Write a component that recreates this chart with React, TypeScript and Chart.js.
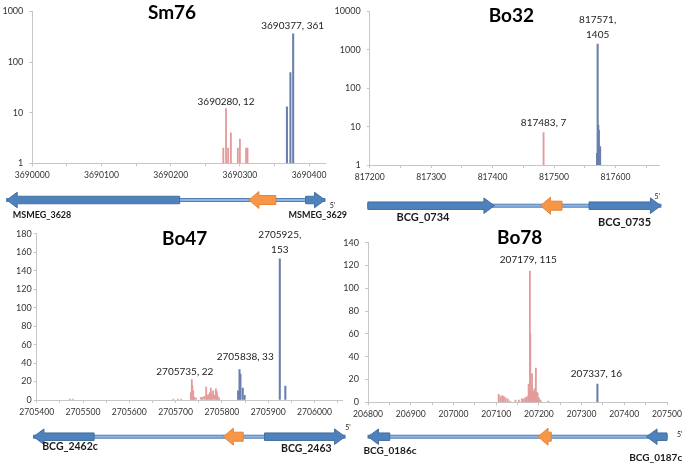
import React, { useEffect, useRef } from 'react';
import { Chart, registerables } from 'chart.js';
Chart.register(...registerables);

// ---------------- Sm76 ----------------
const sm76RedPos = [3690276, 3690280, 3690283, 3690287, 3690297, 3690300, 3690309, 3690311];
const sm76RedCount = [2, 12, 2, 4, 2, 3, 2, 2];
const sm76BluePos = [3690368, 3690373, 3690377];
const sm76BlueCount = [13, 62, 361];
const sm76XLabels = [3690000, 3690100, 3690200, 3690300, 3690400];
const sm76YTicks = [1, 10, 100, 1000];
const sm76LabelPos = [3690377, 3690280];
const sm76LabelCount = [361, 12];
const sm76LabelText = ['3690377, 361', '3690280, 12'];
const sm76GeneNames = ['MSMEG_3628', '', 'MSMEG_3629'];
const sm76GeneTail = [3690213, 3690352, 3690395];
const sm76GeneTip = [3689963, 3690313, 3690423];
const sm76GeneKind = ['blue', 'orange', 'blue'];

// ---------------- Bo32 ----------------
const bo32RedPos = [817483];
const bo32RedCount = [7];
const bo32BluePos = [817570, 817571, 817572, 817573, 817575];
const bo32BlueCount = [2, 1405, 11, 8, 3];
const bo32XLabels = [817200, 817300, 817400, 817500, 817600];
const bo32YTicks = [1, 10, 100, 1000, 10000];
const bo32LabelPos = [817571, 817483];
const bo32LabelCount = [1405, 7];
const bo32LabelText = ['817571,\n1405', '817483, 7'];
const bo32GeneNames = ['BCG_0734', '', 'BCG_0735'];
const bo32GeneTail = [817197, 817513, 817557];
const bo32GeneTip = [817403, 817478, 817674];
const bo32GeneKind = ['blue', 'orange', 'blue'];

// ---------------- Bo47 ----------------
const bo47RedPos = [2705472, 2705478, 2705695, 2705705, 2705712, 2705733, 2705735, 2705736, 2705738, 2705740, 2705744,
  2705755, 2705758, 2705762, 2705766, 2705768, 2705771, 2705774, 2705776, 2705778, 2705781, 2705784, 2705787,
  2705789, 2705791, 2705794];
const bo47RedCount = [1, 1, 1, 1, 1, 8, 22, 16, 10, 3, 2,
  3, 3, 4, 14, 5, 6, 8, 13, 7, 10, 5, 12,
  9, 4, 2];
const bo47BluePos = [2705835, 2705838, 2705840, 2705845, 2705849, 2705925, 2705937];
const bo47BlueCount = [10, 33, 28, 13, 5, 153, 15];
const bo47XLabels = [2705400, 2705500, 2705600, 2705700, 2705800, 2705900, 2706000];
const bo47YTicks = [0, 20, 40, 60, 80, 100, 120, 140, 160, 180];
const bo47LabelPos = [2705925, 2705838, 2705735];
const bo47LabelCount = [153, 33, 22];
const bo47LabelText = ['2705925,\n153', '2705838, 33', '2705735, 22'];
const bo47GeneNames = ['BCG_2462c', '', 'BCG_2463'];
const bo47GeneTail = [2705524, 2705846, 2705892];
const bo47GeneTip = [2705393, 2705803, 2706066];
const bo47GeneKind = ['blue', 'orange', 'blue'];

// ---------------- Bo78 ----------------
const bo78RedPos = [207106, 207110, 207114, 207118, 207122, 207127, 207132, 207145, 207153, 207160, 207164, 207168,
  207172, 207176, 207179, 207180, 207182, 207184, 207186, 207188, 207190, 207193, 207195, 207197, 207200,
  207204, 207222];
const bo78RedCount = [7, 5, 6, 5, 4, 3, 1, 2, 2, 3, 3, 4,
  5, 16, 115, 60, 15, 25, 10, 9, 12, 30, 9, 8, 4,
  2, 1];
const bo78BluePos = [207337];
const bo78BlueCount = [16];
const bo78XLabels = [206800, 206900, 207000, 207100, 207200, 207300, 207400, 207500];
const bo78YTicks = [0, 20, 40, 60, 80, 100, 120, 140];
const bo78LabelPos = [207179, 207337];
const bo78LabelCount = [115, 16];
const bo78LabelText = ['207179, 115', '207337, 16'];
const bo78GeneNames = ['BCG_0186c', '', 'BCG_0187c'];
const bo78GeneTail = [206851, 207229, 207500];
const bo78GeneTip = [206800, 207198, 207452];
const bo78GeneKind = ['blue', 'orange', 'blue'];

// ---------------- styles ----------------
const RED = '#e39c9c';
const BLUE = '#6b7fae';
const AXIS = '#c6c6c6';
const TICK_TEXT = '#333333';
const FONT = 'Lato, "Open Sans", sans-serif';

type Cfg = {
  left: number; top: number; w: number; h: number;
  axisLeft: number; padTop: number; padRight: number; padBottom: number; yPad: number;
  log: boolean; xMin: number; xMax: number; yMin: number; yMax: number;
  xLabels: number[]; yTicks: number[];
  redPos: number[]; redCount: number[]; bluePos: number[]; blueCount: number[];
  title: string; titleX: number; titleY: number;
  labelPos: number[]; labelCount: number[]; labelText: string[]; labelDx: number[]; labelGap: number[];
  geneNames: string[]; geneTail: number[]; geneTip: number[]; geneKind: string[];
  geneY: number; geneLabelX: number[]; geneLabelY: number[]; geneLabelAlign: CanvasTextAlign[]; geneFont: number;
  primeX: number; primeY: number;
};

const panels: Cfg[] = [
  {
    left: 0, top: 0, w: 350, h: 235, axisLeft: 32.3, padTop: 8, padRight: 25, padBottom: 51.7, yPad: 6,
    log: true, xMin: 3690000, xMax: 3690423, yMin: 1, yMax: 1000,
    xLabels: sm76XLabels, yTicks: sm76YTicks,
    redPos: sm76RedPos, redCount: sm76RedCount, bluePos: sm76BluePos, blueCount: sm76BlueCount,
    title: 'Sm76', titleX: 172, titleY: 13,
    labelPos: sm76LabelPos, labelCount: sm76LabelCount, labelText: sm76LabelText, labelDx: [-0.5, 0], labelGap: [8, 7],
    geneNames: sm76GeneNames, geneTail: sm76GeneTail, geneTip: sm76GeneTip, geneKind: sm76GeneKind,
    geneY: 200, geneLabelX: [12.7, 0, 288.5], geneLabelY: [215, 0, 215], geneLabelAlign: ['left', 'left', 'left'], geneFont: 9,
    primeX: 332.5, primeY: 205.5,
  },
  {
    left: 330, top: 0, w: 356, h: 235, axisLeft: 39.7, padTop: 8, padRight: 26.3, padBottom: 50, yPad: 6,
    log: true, xMin: 817200, xMax: 817672, yMin: 1, yMax: 10000,
    xLabels: bo32XLabels, yTicks: bo32YTicks,
    redPos: bo32RedPos, redCount: bo32RedCount, bluePos: bo32BluePos, blueCount: bo32BlueCount,
    title: 'Bo32', titleX: 181.3, titleY: 16,
    labelPos: bo32LabelPos, labelCount: bo32LabelCount, labelText: bo32LabelText, labelDx: [0, 0], labelGap: [9.7, 9.8],
    geneNames: bo32GeneNames, geneTail: bo32GeneTail, geneTip: bo32GeneTip, geneKind: bo32GeneKind,
    geneY: 205.7, geneLabelX: [93, 0, 294.6], geneLabelY: [217.5, 0, 222.5], geneLabelAlign: ['center', 'center', 'center'], geneFont: 11,
    primeX: 327.3, primeY: 197,
  },
  {
    left: 0, top: 225, w: 355, h: 244, axisLeft: 36.7, padTop: 8.8, padRight: 12.7, padBottom: 49, yPad: 2,
    log: false, xMin: 2705400, xMax: 2706060, yMin: 0, yMax: 180,
    xLabels: bo47XLabels, yTicks: bo47YTicks,
    redPos: bo47RedPos, redCount: bo47RedCount, bluePos: bo47BluePos, blueCount: bo47BlueCount,
    title: 'Bo47', titleX: 184.7, titleY: 14,
    labelPos: bo47LabelPos, labelCount: bo47LabelCount, labelText: bo47LabelText, labelDx: [0, 5.7, -7], labelGap: [9.3, 12.5, 7.7],
    geneNames: bo47GeneNames, geneTail: bo47GeneTail, geneTip: bo47GeneTip, geneKind: bo47GeneKind,
    geneY: 211.7, geneLabelX: [70, 0, 306.3], geneLabelY: [222, 0, 223.8], geneLabelAlign: ['center', 'center', 'center'], geneFont: 10.5,
    primeX: 348, primeY: 203,
  },
  {
    left: 335, top: 225, w: 351, h: 244, axisLeft: 33, padTop: 17.7, padRight: 16.3, padBottom: 46.7, yPad: 6,
    log: false, xMin: 206800, xMax: 207500, yMin: 0, yMax: 140,
    xLabels: bo78XLabels, yTicks: bo78YTicks,
    redPos: bo78RedPos, redCount: bo78RedCount, bluePos: bo78BluePos, blueCount: bo78BlueCount,
    title: 'Bo78', titleX: 184.7, titleY: 13,
    labelPos: bo78LabelPos, labelCount: bo78LabelCount, labelText: bo78LabelText, labelDx: [-1.6, -1], labelGap: [11, 10.3],
    geneNames: bo78GeneNames, geneTail: bo78GeneTail, geneTip: bo78GeneTip, geneKind: bo78GeneKind,
    geneY: 211.7, geneLabelX: [55, 0, 320.7], geneLabelY: [225.8, 0, 232.5], geneLabelAlign: ['center', 'center', 'center'], geneFont: 10,
    primeX: 344.7, primeY: 210,
  },
];

function drawArrow(ctx: CanvasRenderingContext2D, xTail: number, xTip: number, yc: number, orange: boolean) {
  const dir = xTip > xTail ? 1 : -1;
  const headL = orange ? 10 : 10.5;
  const bodyH = orange ? 9 : 7.5;
  const headH = orange ? 17 : 15.5;
  const xNeck = xTip - dir * headL;
  ctx.beginPath();
  ctx.moveTo(xTail, yc - bodyH / 2);
  ctx.lineTo(xNeck, yc - bodyH / 2);
  ctx.lineTo(xNeck, yc - headH / 2);
  ctx.lineTo(xTip, yc);
  ctx.lineTo(xNeck, yc + headH / 2);
  ctx.lineTo(xNeck, yc + bodyH / 2);
  ctx.lineTo(xTail, yc + bodyH / 2);
  ctx.closePath();
  ctx.fillStyle = orange ? '#f79646' : '#4f81bd';
  ctx.fill();
  ctx.lineWidth = 1;
  ctx.strokeStyle = orange ? '#e3843a' : '#41719c';
  ctx.stroke();
}

function drawAnnot(chart: any, c: Cfg) {
  const ctx: CanvasRenderingContext2D = chart.ctx;
  const xs = chart.scales.x;
  const ys = chart.scales.y;
  ctx.save();
  // gene map
  const all = c.geneTail.concat(c.geneTip).map((g) => xs.getPixelForValue(g));
  const lo = Math.min(...all);
  const hi = Math.max(...all);
  ctx.fillStyle = '#93b3dc';
  ctx.strokeStyle = '#4f81bd';
  ctx.lineWidth = 1;
  ctx.fillRect(lo, c.geneY - 1.5, hi - lo, 3);
  ctx.strokeRect(lo, c.geneY - 1.5, hi - lo, 3);
  c.geneTail.forEach((t, i) => {
    drawArrow(ctx, xs.getPixelForValue(t), xs.getPixelForValue(c.geneTip[i]), c.geneY, c.geneKind[i] === 'orange');
  });
  ctx.fillStyle = '#1a1a1a';
  ctx.textBaseline = 'middle';
  ctx.font = `bold ${c.geneFont}px ${FONT}`;
  c.geneNames.forEach((n, i) => {
    if (!n) return;
    ctx.textAlign = c.geneLabelAlign[i];
    ctx.fillText(n, c.geneLabelX[i], c.geneLabelY[i]);
  });
  ctx.font = `7px ${FONT}`;
  ctx.textAlign = 'center';
  ctx.fillText("5'", c.primeX, c.primeY);
  // title
  ctx.fillStyle = '#000';
  ctx.font = `bold 19px ${FONT}`;
  ctx.fillText(c.title, c.titleX, c.titleY);
  // data labels
  ctx.fillStyle = '#222';
  ctx.font = `10px ${FONT}`;
  c.labelPos.forEach((p, i) => {
    const px = xs.getPixelForValue(p) + c.labelDx[i];
    const top = ys.getPixelForValue(c.labelCount[i]);
    const lines = c.labelText[i].split('\n');
    lines.forEach((t, k) => {
      ctx.fillText(t, px, top - c.labelGap[i] - (lines.length - 1 - k) * 14.5);
    });
  });
  ctx.restore();
}

function Panel({ c }: { c: Cfg }) {
  const ref = useRef<HTMLCanvasElement>(null);
  useEffect(() => {
    const xTicks: number[] = [];
    c.xLabels.forEach((v) => {
      xTicks.push(v);
      if (v + 50 <= c.xMax) xTicks.push(v + 50);
    });
    const labelSet = new Set(c.xLabels);
    const tickFont = { family: FONT, size: 8.6 };
    const chart = new Chart(ref.current as HTMLCanvasElement, {
      type: 'bar',
      data: {
        datasets: [
          {
            data: c.redPos.map((x, i) => ({ x, y: c.redCount[i] })),
            backgroundColor: RED,
            borderWidth: 0,
            barThickness: 1.2,
            grouped: false,
          } as any,
          {
            data: c.bluePos.map((x, i) => ({ x, y: c.blueCount[i] })),
            backgroundColor: BLUE,
            borderWidth: 0,
            barThickness: 1.4,
            grouped: false,
          } as any,
        ],
      },
      options: {
        responsive: false,
        animation: false,
        devicePixelRatio: 1,
        events: [],
        layout: { padding: { left: 0, top: c.padTop, right: c.padRight, bottom: c.padBottom } },
        plugins: { legend: { display: false }, tooltip: { enabled: false } },
        scales: {
          x: {
            type: 'linear',
            min: c.xMin,
            max: c.xMax,
            offset: false,
            grid: { display: true, drawOnChartArea: false, drawTicks: true, tickLength: 3, color: AXIS, offset: false },
            border: { display: true, color: AXIS, width: 1 },
            ticks: {
              autoSkip: false, maxRotation: 0, minRotation: 0, padding: 4, color: TICK_TEXT, font: tickFont,
              includeBounds: false,
              callback: (v: any) => (labelSet.has(Number(v)) ? String(v) : ''),
            },
            afterBuildTicks: (s: any) => { s.ticks = xTicks.map((value) => ({ value })); },
            afterFit: (s: any) => { s.height = 20; },
          } as any,
          y: {
            type: c.log ? 'logarithmic' : 'linear',
            min: c.yMin,
            max: c.yMax,
            grid: { display: true, drawOnChartArea: false, drawTicks: true, tickLength: 3, color: AXIS },
            border: { display: true, color: AXIS, width: 1 },
            ticks: {
              autoSkip: false, padding: c.yPad, color: TICK_TEXT, font: { family: FONT, size: 9 },
              callback: (v: any) => String(v),
            },
            afterBuildTicks: (s: any) => { s.ticks = c.yTicks.map((value) => ({ value })); },
            afterFit: (s: any) => { s.width = c.axisLeft; },
          } as any,
        },
      },
      plugins: [{ id: 'annot', afterDraw: (ch: any) => drawAnnot(ch, c) }],
    });
    return () => chart.destroy();
  }, [c]);
  return (
    <canvas
      ref={ref}
      width={c.w}
      height={c.h}
      style={{ position: 'absolute', left: c.left, top: c.top, width: c.w, height: c.h }}
    />
  );
}

export default function App() {
  return (
    <div style={{ position: 'absolute', left: 0, top: 0, width: 686, height: 469, background: '#fff', overflow: 'hidden' }}>
      {panels.map((c, i) => (
        <Panel key={i} c={c} />
      ))}
    </div>
  );
}
